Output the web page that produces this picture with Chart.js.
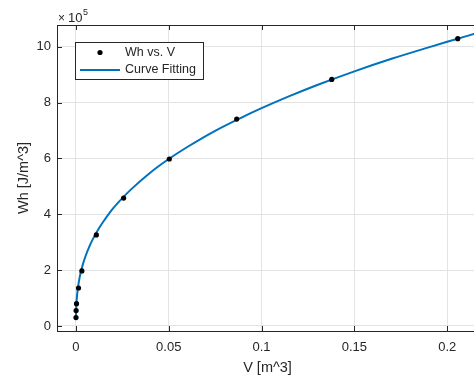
<!DOCTYPE html>
<html>
<head>
<meta charset="utf-8">
<script src="https://cdn.jsdelivr.net/npm/chart.js@4/dist/chart.umd.min.js"></script>
<style>
  html, body { margin: 0; padding: 0; background: #fff; overflow: hidden; }
  #wrap { width: 482px; height: 378px; position: relative; }
</style>
</head>
<body>
<div id="wrap"><canvas id="wh-chart"></canvas></div>
<script>
// measured points (V in m^3, Wh in J/m^3)
const pointV  = [0.00003, 0.0001, 0.0003, 0.0014, 0.0032, 0.011, 0.0257, 0.0503, 0.0866, 0.1378, 0.2057];
const pointWh = [30000, 55000, 80000, 136000, 197000, 326000, 458000, 598000, 741000, 883000, 1029000];

// fitted curve
const curveV  = [0, 0.0001, 0.0002, 0.0005, 0.001, 0.002, 0.003, 0.005, 0.0075, 0.01, 0.0125, 0.015, 0.02, 0.025, 0.03, 0.04, 0.05, 0.06, 0.075, 0.09, 0.1, 0.115, 0.13, 0.15, 0.17, 0.19, 0.2, 0.217];
const curveWh = [30000, 55000, 72000, 102000, 133000, 174000, 203000, 247000, 289000, 322000, 351000, 376000, 421000, 458000, 491000, 549000, 598000, 641000, 699000, 749000, 780000, 823000, 863000, 912000, 957000, 998000, 1018000, 1051000];

const xTicks = [0, 0.05, 0.1, 0.15, 0.2];
const yTicks = [0, 2, 4, 6, 8, 10];   // x 10^5

const legendLabels = ['Wh vs. V', 'Curve Fitting'];

const FONT = '"Liberation Sans", Arial, Helvetica, sans-serif';
const INK = '#262626';
const BLUE = '#0072BD';

// frame, inward ticks, exponent label and legend (matlab look)
const matlabBits = {
    id: 'matlabBits',
    afterDraw(chart) {
        const {ctx, chartArea: a, scales} = chart;
        ctx.save();
        ctx.strokeStyle = INK;
        ctx.lineWidth = 1;
        ctx.beginPath();
        ctx.moveTo(a.left, a.top + 0.5);
        ctx.lineTo(a.right, a.top + 0.5);
        ctx.moveTo(a.right - 0.5, a.top);
        ctx.lineTo(a.right - 0.5, a.bottom);
        xTicks.forEach(t => {
            const px = Math.round(scales.x.getPixelForValue(t)) + 0.5;
            ctx.moveTo(px, a.bottom);
            ctx.lineTo(px, a.bottom - 5);
            ctx.moveTo(px, a.top);
            ctx.lineTo(px, a.top + 5);
        });
        yTicks.forEach(t => {
            const py = Math.round(scales.y.getPixelForValue(t * 1e5)) + 0.5;
            ctx.moveTo(a.left, py);
            ctx.lineTo(a.left + 5, py);
        });
        ctx.stroke();

        // x 10^5
        ctx.fillStyle = INK;
        ctx.textBaseline = 'alphabetic';
        ctx.textAlign = 'left';
        ctx.font = '12px ' + FONT;
        ctx.fillText('\u00d7', a.left + 1, 22);
        ctx.font = '13px ' + FONT;
        ctx.fillText('10', a.left + 11, 22);
        ctx.font = '9px ' + FONT;
        ctx.fillText('5', a.left + 26, 15);

        // legend box
        const bx = 75.5, by = 42.5, bw = 128, bh = 37;
        ctx.fillStyle = '#fff';
        ctx.fillRect(bx, by, bw, bh);
        ctx.strokeStyle = INK;
        ctx.strokeRect(bx, by, bw, bh);

        const ds = chart.data.datasets;
        ctx.fillStyle = ds[0].backgroundColor;
        ctx.beginPath();
        ctx.arc(100, 52.5, 2.6, 0, Math.PI * 2);
        ctx.fill();

        ctx.strokeStyle = ds[1].borderColor;
        ctx.lineWidth = 2;
        ctx.beginPath();
        ctx.moveTo(80, 70);
        ctx.lineTo(120, 70);
        ctx.stroke();

        ctx.fillStyle = INK;
        ctx.font = '12.5px ' + FONT;
        ctx.textBaseline = 'middle';
        ctx.fillText(ds[0].label, 125, 52.5);
        ctx.fillText(ds[1].label, 125, 70);
        ctx.restore();
    }
};

const ctx = document.getElementById('wh-chart');
const chart = new Chart(ctx, {
    type: 'scatter',
    data: {
        datasets: [
            {
                label: legendLabels[0],
                data: pointV.map((v, i) => ({x: v, y: pointWh[i]})),
                backgroundColor: '#000',
                borderColor: '#000',
                pointRadius: 2.6,
                pointBorderWidth: 0
            },
            {
                label: legendLabels[1],
                type: 'line',
                data: curveV.map((v, i) => ({x: v, y: curveWh[i]})),
                borderColor: BLUE,
                borderWidth: 2,
                pointRadius: 0,
                fill: false,
                cubicInterpolationMode: 'monotone'
            }
        ]
    },
    options: {
        responsive: true,
        maintainAspectRatio: false,
        animation: false,
        layout: { padding: { left: 0, top: 25, right: 1, bottom: 0 } },
        plugins: { legend: { display: false }, tooltip: { enabled: false } },
        scales: {
            x: {
                type: 'linear',
                min: -0.0102,
                max: 0.2166,
                afterFit: s => { s.height = 47; },
                afterBuildTicks: s => { s.ticks = xTicks.map(v => ({value: v})); },
                grid: { color: '#e3e3e3', drawTicks: false },
                border: { color: INK, width: 1 },
                ticks: {
                    padding: 9,
                    color: INK,
                    font: { family: FONT, size: 13 },
                    callback: v => String(v)
                },
                title: {
                    display: true,
                    text: 'V [m^3]',
                    color: INK,
                    font: { family: FONT, size: 14.5 },
                    padding: { top: 0, bottom: 1 }
                }
            },
            y: {
                type: 'linear',
                min: -18000,
                max: 1078000,
                afterFit: s => { s.width = 57; },
                afterBuildTicks: s => { s.ticks = yTicks.map(v => ({value: v * 1e5})); },
                grid: { color: '#e3e3e3', drawTicks: false },
                border: { color: INK, width: 1 },
                ticks: {
                    padding: 6,
                    color: INK,
                    font: { family: FONT, size: 13 },
                    callback: v => String(Math.round(v / 1e5))
                },
                title: {
                    display: true,
                    text: 'Wh [J/m^3]',
                    color: INK,
                    font: { family: FONT, size: 14.5 },
                    padding: { top: 15, bottom: 0 }
                }
            }
        }
    },
    plugins: [matlabBits]
});
</script>
</body>
</html>
